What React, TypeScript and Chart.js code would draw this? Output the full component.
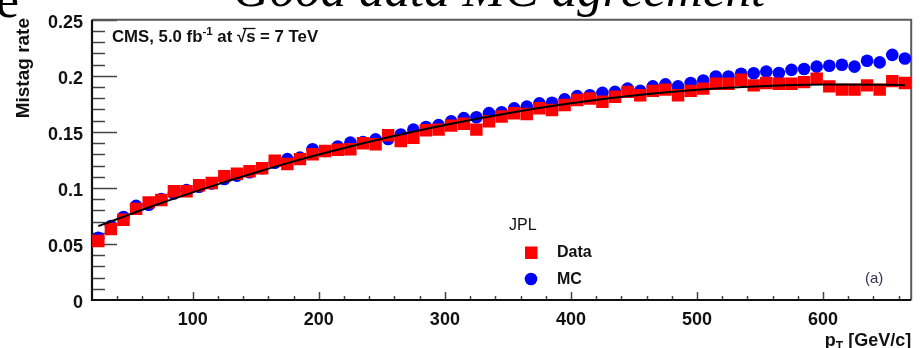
import React, { useEffect, useRef } from 'react';
import { Chart, registerables } from 'chart.js';

Chart.register(...registerables);

// Jet pT bin centres [GeV/c]
const ptBins = [
  25, 35, 45, 55, 65, 75, 85, 95, 105, 115,
  125, 135, 145, 155, 165, 175, 185, 195, 205, 215,
  225, 235, 245, 255, 265, 275, 285, 295, 305, 315,
  325, 335, 345, 355, 365, 375, 385, 395, 405, 415,
  425, 435, 445, 455, 465, 475, 485, 495, 505, 515,
  525, 535, 545, 555, 565, 575, 585, 595, 605, 615,
  625, 635, 645, 655, 665,
];

// Measured mistag rate (Data)
const dataRate = [
  0.0526, 0.0634, 0.0716, 0.0813, 0.0871, 0.0892, 0.0971, 0.0971, 0.1023, 0.1044,
  0.1105, 0.1126, 0.1149, 0.1175, 0.1243, 0.1213, 0.1257, 0.1300, 0.1330, 0.1340,
  0.1345, 0.1398, 0.1390, 0.1470, 0.1418, 0.1447, 0.1515, 0.1520, 0.1556, 0.1573,
  0.1520, 0.1594, 0.1637, 0.1667, 0.1660, 0.1710, 0.1696, 0.1740, 0.1784, 0.1798,
  0.1769, 0.1813, 0.1857, 0.1827, 0.1866, 0.1877, 0.1827, 0.1866, 0.1886, 0.1930,
  0.1930, 0.1965, 0.1915, 0.1936, 0.1930, 0.1930, 0.1944, 0.1974, 0.1906, 0.1877,
  0.1877, 0.1915, 0.1877, 0.1953, 0.1936,
];

// Simulated mistag rate (MC)
const mcRate = [
  0.0556, 0.0660, 0.0740, 0.0840, 0.0850, 0.0900, 0.0950, 0.0980, 0.1010, 0.1040,
  0.1080, 0.1110, 0.1140, 0.1175, 0.1225, 0.1257, 0.1270, 0.1345, 0.1330, 0.1370,
  0.1404, 0.1410, 0.1433, 0.1436, 0.1477, 0.1520, 0.1544, 0.1560, 0.1594, 0.1623,
  0.1630, 0.1667, 0.1675, 0.1710, 0.1725, 0.1754, 0.1760, 0.1790, 0.1819, 0.1827,
  0.1848, 0.1857, 0.1886, 0.1866, 0.1906, 0.1924, 0.1906, 0.1936, 0.1959, 0.1994,
  0.1994, 0.2018, 0.2023, 0.2038, 0.2026, 0.2053, 0.2061, 0.2082, 0.2090, 0.2099,
  0.2082, 0.2135, 0.2120, 0.2187, 0.2155,
];

// Fitted parametrisation of the data
const fitPt = [25, 50, 75, 100, 125, 150, 175, 200, 250, 300, 350, 400, 450, 500, 550, 600, 650, 665];
const fitRate = [
  0.0659, 0.0764, 0.0865, 0.0960, 0.1052, 0.1138, 0.1221, 0.1298, 0.1439,
  0.1562, 0.1667, 0.1755, 0.1824, 0.1876, 0.1908, 0.1922, 0.1920, 0.1917,
];

const xTickValues = [100, 200, 300, 400, 500, 600];
const yTickValues = [0, 0.05, 0.1, 0.15, 0.2, 0.25];
const yTickLabels = ['0', '0.05', '0.1', '0.15', '0.2', '0.25'];

const SANS = '"Liberation Sans", Arial, sans-serif';
const SERIF = '"Liberation Serif", "Times New Roman", serif';

const overlay = {
  id: 'rootStyleFrame',
  beforeDatasetsDraw(chart: any) {
    const { ctx, chartArea } = chart;
    const { left, right, top, bottom } = chartArea;
    const xs = chart.scales.x;
    const ys = chart.scales.y;
    ctx.save();
    // inward ticks on the y axis: minor every 0.01, major every 0.05
    ctx.strokeStyle = '#444';
    ctx.lineWidth = 1.5;
    for (let k = 1; k <= 25; k++) {
      const y = Math.round(ys.getPixelForValue(k / 100)) + 0.5;
      const len = k % 5 === 0 ? 25 : 13;
      ctx.beginPath();
      ctx.moveTo(left, y);
      ctx.lineTo(left + len, y);
      ctx.stroke();
    }
    // inward ticks on the x axis: minor every 20, major every 100
    for (let v = 40; v < 670; v += 20) {
      const x = Math.round(xs.getPixelForValue(v)) + 0.5;
      const len = v % 100 === 0 ? 8 : 4;
      ctx.beginPath();
      ctx.moveTo(x, bottom);
      ctx.lineTo(x, bottom - len);
      ctx.stroke();
    }
    // frame
    ctx.strokeStyle = '#5a5a5a';
    ctx.lineWidth = 2;
    ctx.beginPath();
    ctx.moveTo(left, top);
    ctx.lineTo(right, top);
    ctx.lineTo(right, bottom);
    ctx.stroke();
    ctx.strokeStyle = '#111';
    ctx.lineWidth = 2.2;
    ctx.beginPath();
    ctx.moveTo(left, top);
    ctx.lineTo(left, bottom);
    ctx.lineTo(right, bottom);
    ctx.stroke();
    ctx.restore();
  },
  afterDraw(chart: any) {
    const { ctx, chartArea } = chart;
    const { right } = chartArea;
    ctx.save();
    ctx.textAlign = 'left';

    // slide headline running above the plot
    ctx.fillStyle = '#000';
    ctx.textBaseline = 'alphabetic';
    ctx.font = `italic 51px ${SERIF}`;
    ctx.fillText('Good data MC agreement', 233, 6);
    ctx.font = `52px ${SERIF}`;
    ctx.fillText('e', -4, 17);

    // y-axis title, right-aligned at the top
    ctx.save();
    ctx.translate(24, 18);
    ctx.rotate(-Math.PI / 2);
    ctx.textAlign = 'right';
    ctx.textBaseline = 'middle';
    ctx.font = `bold 19px ${SANS}`;
    ctx.fillStyle = '#111';
    ctx.fillText('Mistag rate', 0, 0);
    ctx.restore();

    // x-axis title with subscript
    ctx.fillStyle = '#111';
    ctx.textBaseline = 'alphabetic';
    const big = `bold 18px ${SANS}`;
    const sub = `bold 12px ${SANS}`;
    ctx.font = big;
    const wP = ctx.measureText('p').width;
    const wRest = ctx.measureText(' [GeV/c]').width;
    ctx.font = sub;
    const wT = ctx.measureText('T').width;
    let tx = right - (wP + wT + wRest);
    const ty = 346;
    ctx.font = big;
    ctx.fillText('p', tx, ty);
    tx += wP;
    ctx.font = sub;
    ctx.fillText('T', tx, ty + 4);
    tx += wT;
    ctx.font = big;
    ctx.fillText(' [GeV/c]', tx, ty);

    // CMS label
    const cmsBig = `bold 16.8px ${SANS}`;
    const cmsSup = `bold 11.5px ${SANS}`;
    let cx = 112;
    const cy = 42;
    ctx.font = cmsBig;
    ctx.fillText('CMS, 5.0 fb', cx, cy);
    cx += ctx.measureText('CMS, 5.0 fb').width;
    ctx.font = cmsSup;
    ctx.fillText('-1', cx, cy - 7);
    cx += ctx.measureText('-1').width;
    ctx.font = cmsBig;
    ctx.fillText(' at ', cx, cy);
    cx += ctx.measureText(' at ').width;
    const rootStart = cx;
    ctx.fillText('\u221A', cx, cy);
    cx += ctx.measureText('\u221A').width;
    ctx.fillText('s', cx, cy);
    cx += ctx.measureText('s').width;
    ctx.strokeStyle = '#111';
    ctx.lineWidth = 1.3;
    ctx.beginPath();
    ctx.moveTo(rootStart + 6, cy - 13.5);
    ctx.lineTo(cx, cy - 13.5);
    ctx.stroke();
    ctx.fillText(' = 7 TeV', cx, cy);

    // legend
    ctx.textBaseline = 'middle';
    ctx.font = `16px ${SANS}`;
    ctx.fillText('JPL', 509, 226);
    ctx.fillStyle = '#ff0000';
    ctx.fillRect(525, 246.5, 12.5, 12.5);
    ctx.fillStyle = '#0000ff';
    ctx.beginPath();
    ctx.arc(531, 279, 6.3, 0, Math.PI * 2);
    ctx.fill();
    ctx.fillStyle = '#111';
    ctx.font = `bold 16px ${SANS}`;
    ctx.fillText('Data', 557, 253);
    ctx.fillText('MC', 557, 280);

    // panel tag
    ctx.font = `15px ${SANS}`;
    ctx.fillStyle = '#33344f';
    ctx.fillText('(a)', 865, 279);
    ctx.restore();
  },
};

export default function App() {
  const canvasRef = useRef<HTMLCanvasElement | null>(null);

  useEffect(() => {
    const canvas = canvasRef.current;
    if (!canvas) return;
    const chart = new Chart(canvas, {
      type: 'scatter',
      data: {
        datasets: [
          {
            label: 'Fit',
            data: fitPt.map((x, i) => ({ x, y: fitRate[i] })),
            showLine: true,
            borderColor: '#000',
            borderWidth: 2,
            pointRadius: 0,
            cubicInterpolationMode: 'monotone',
            order: 0,
          },
          {
            label: 'Data',
            data: ptBins.map((x, i) => ({ x, y: dataRate[i] })),
            pointStyle: 'rect',
            pointRadius: 8.8,
            backgroundColor: '#ff0000',
            borderWidth: 0,
            order: 1,
          },
          {
            label: 'MC',
            data: ptBins.map((x, i) => ({ x, y: mcRate[i] })),
            pointStyle: 'circle',
            pointRadius: 6.3,
            backgroundColor: '#0000ff',
            borderWidth: 0,
            order: 2,
          },
        ],
      } as any,
      options: {
        animation: false,
        responsive: false,
        events: [],
        layout: { padding: { top: 15, right: 3, left: 0, bottom: 0 } },
        plugins: { legend: { display: false }, tooltip: { enabled: false } },
        scales: {
          x: {
            type: 'linear',
            min: 20,
            max: 670,
            grid: { display: false, drawTicks: false },
            border: { display: false },
            afterBuildTicks: (s: any) => {
              s.ticks = xTickValues.map((v) => ({ value: v }));
            },
            afterFit: (s: any) => {
              s.height = 48;
            },
            ticks: {
              font: { family: SANS, size: 18, weight: 'bold' },
              color: '#111',
              padding: 9,
              maxRotation: 0,
              autoSkip: false,
            },
          },
          y: {
            type: 'linear',
            min: 0,
            max: 0.25,
            grid: { display: false, drawTicks: false },
            border: { display: false },
            afterBuildTicks: (s: any) => {
              s.ticks = yTickValues.map((v) => ({ value: v }));
            },
            afterFit: (s: any) => {
              s.width = 92;
            },
            ticks: {
              font: { family: SANS, size: 18, weight: 'bold' },
              color: '#111',
              padding: 9,
              labelOffset: 3,
              autoSkip: false,
              callback: (value: any) => {
                const i = yTickValues.findIndex((t) => Math.abs(t - Number(value)) < 1e-9);
                return i >= 0 ? yTickLabels[i] : '';
              },
            },
          },
        },
      } as any,
      plugins: [overlay],
    });
    return () => chart.destroy();
  }, []);

  return (
    <div style={{ position: 'absolute', left: 0, top: 0, width: 920, height: 348, background: '#fff' }}>
      <canvas ref={canvasRef} width={920} height={348} style={{ display: 'block' }} />
    </div>
  );
}
